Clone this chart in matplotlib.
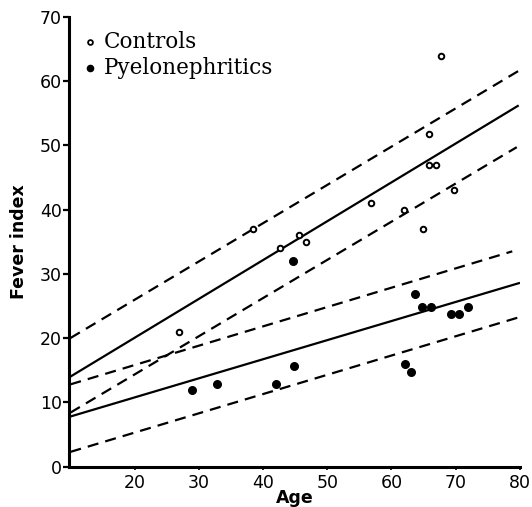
import numpy as np
import matplotlib.pyplot as plt

# Controls (open circles)
ctrl_age = [26.9, 38.5, 42.7, 45.6, 46.7, 56.8, 61.9, 64.9, 65.8, 65.8, 67.0, 69.8, 67.7]
ctrl_fever = [20.9, 37.0, 34.0, 36.0, 34.9, 41.0, 40.0, 37.0, 51.8, 47.0, 47.0, 43.0, 63.9]

# Pyelonephritics (filled circles)
pyel_age = [28.9, 32.9, 42.0, 44.6, 44.9, 62.1, 63.1, 63.7, 64.7, 66.1, 69.2, 70.5, 71.9]
pyel_fever = [11.9, 12.9, 12.8, 32.0, 15.7, 15.9, 14.7, 26.8, 24.8, 24.8, 23.8, 23.8, 24.8]

# fitted lines: (x start, y start, x end, y end)
ctrl_fit = (10, 14.0, 79.8, 56.2)
ctrl_upper = (10, 20.0, 80, 61.7)
ctrl_lower = (10, 8.4, 79.5, 49.7)
pyel_fit = (10, 7.8, 80, 28.6)
pyel_upper = (10, 12.8, 78.8, 33.5)
pyel_lower = (10, 2.3, 79.7, 23.2)

fig = plt.figure(figsize=(5.32, 5.07), dpi=100)
ax = fig.add_axes([0.1297, 0.0795, 0.8477, 0.8876])

for ln in [ctrl_fit, pyel_fit]:
    ax.plot([ln[0], ln[2]], [ln[1], ln[3]], color='black', lw=1.6, solid_capstyle='butt')
for ln in [ctrl_upper, ctrl_lower, pyel_upper, pyel_lower]:
    ax.plot([ln[0], ln[2]], [ln[1], ln[3]], color='black', lw=1.6, dashes=(5, 3.2))

ax.scatter(ctrl_age, ctrl_fever, s=16, facecolors='white', edgecolors='black',
           linewidths=1.4, zorder=3)
ax.scatter(pyel_age, pyel_fever, s=30, color='black', zorder=3)

# legend drawn as marks + text
ax.scatter([13.0], [66.0], s=12, facecolors='white', edgecolors='black', linewidths=1.3)
ax.scatter([13.0], [62.0], s=20, color='black')
ax.text(15.2, 66.0, 'Controls', fontsize=15.5, family='DejaVu Serif', va='center', ha='left')
ax.text(15.2, 62.0, 'Pyelonephritics', fontsize=15.5, family='DejaVu Serif', va='center', ha='left')

ax.set_xlim(9.8, 80)
ax.set_ylim(0, 70)
ax.set_xticks([20, 30, 40, 50, 60, 70, 80])
ax.set_yticks([0, 10, 20, 30, 40, 50, 60, 70])

for s in ['top', 'right']:
    ax.spines[s].set_visible(False)
for s in ['left', 'bottom']:
    ax.spines[s].set_linewidth(2.2)

ax.tick_params(axis='y', length=4, width=1.6, labelsize=12.5, pad=1)
ax.tick_params(axis='x', length=2, width=1.2, labelsize=12.5, pad=3)

ax.set_xlabel('Age', fontsize=12.5, fontweight='bold', labelpad=-2)
ax.set_ylabel('Fever index', fontsize=12.5, fontweight='bold')
ax.yaxis.set_label_coords(-0.092, 0.5)

fig.savefig('out.png', dpi=100)
